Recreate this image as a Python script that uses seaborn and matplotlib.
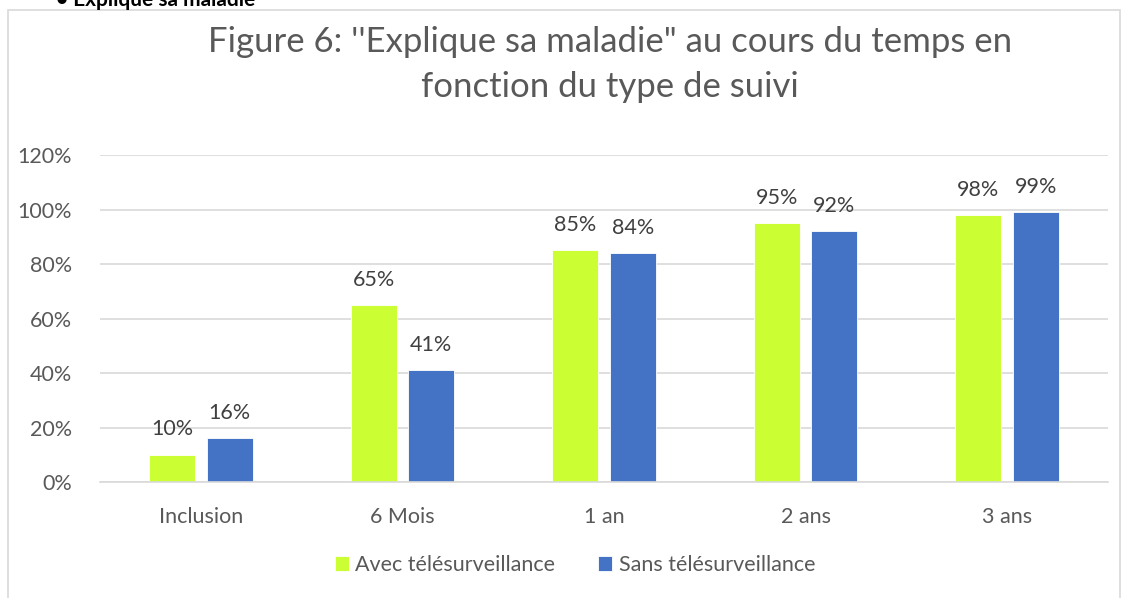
import numpy as np
import pandas as pd
import matplotlib
matplotlib.use('Agg')
import matplotlib.pyplot as plt
import seaborn as sns
from matplotlib.patches import Rectangle
from matplotlib.ticker import PercentFormatter

# data
categories = ['Inclusion', '6 Mois', '1 an', '2 ans', '3 ans']
series_names = ['Avec télésurveillance', 'Sans télésurveillance']
avec = [10, 65, 85, 95, 98]
sans = [16, 41, 84, 92, 99]
colors = ['#CCFF33', '#4472C4']

df = pd.DataFrame({
    'cat': categories * 2,
    'serie': [series_names[0]] * len(categories) + [series_names[1]] * len(categories),
    'val': avec + sans,
})

sns.set_style('white')
plt.rcParams['font.family'] = ['Lato', 'DejaVu Sans']

fig = plt.figure(figsize=(11.23, 5.98), dpi=100)
ax = fig.add_axes([100 / 1123, 1 - 482 / 598, 1008 / 1123, (482 - 155) / 598])

sns.barplot(data=df, x='cat', y='val', hue='serie', palette=colors, saturation=1,
            width=0.57, gap=0.2, ax=ax, legend=True,
            edgecolor='white', linewidth=0.6)

for c in ax.containers:
    ax.bar_label(c, labels=[f'{v:.0f}%' for v in c.datavalues],
                 padding=11, fontsize=15.5, color='#404040')

ax.set_ylim(0, 120)
ax.set_yticks(range(0, 121, 20))
ax.yaxis.set_major_formatter(PercentFormatter(decimals=0))
ax.set_xlim(-0.5, len(categories) - 0.5)
ax.grid(axis='y', color='#D9D9D9', linewidth=1.2)
ax.set_axisbelow(True)
for s in ['top', 'right', 'left']:
    ax.spines[s].set_visible(False)
ax.spines['bottom'].set_color('#D9D9D9')
ax.spines['bottom'].set_linewidth(1.2)
ax.tick_params(axis='both', length=0, labelsize=15.5, labelcolor='#595959')
ax.tick_params(axis='x', pad=18)
ax.tick_params(axis='y', pad=20)
ax.set_xlabel('')
ax.set_ylabel('')

leg = ax.legend(loc='center', bbox_to_anchor=(575 / 1123, 1 - 565 / 598),
                bbox_transform=fig.transFigure, ncol=2, frameon=False,
                fontsize=15.5, handlelength=0.65, handleheight=0.65,
                handletextpad=0.3, columnspacing=2.0)
for t in leg.get_texts():
    t.set_color('#595959')

fig.text(610 / 1123, 1 - 42 / 598, "Figure 6: ''Explique sa maladie\" au cours du temps en",
         ha='center', va='center', fontsize=25, color='#595959')
fig.text(610 / 1123, 1 - 87 / 598, 'fonction du type de suivi',
         ha='center', va='center', fontsize=25, color='#595959')

# heading above the chart frame, cut by the top edge as in the source
fig.text(56 / 1123, 1 - 6 / 598, '• Explique sa maladie', ha='left', va='baseline',
         fontsize=15, fontweight='bold', color='black')

fig.patches.append(Rectangle((8 / 1123, -0.05), 1112 / 1123, 1.05 - 10 / 598,
                             transform=fig.transFigure, fill=False,
                             edgecolor='#D9D9D9', linewidth=1.2))

fig.savefig('out.png', dpi=100, facecolor='white')
